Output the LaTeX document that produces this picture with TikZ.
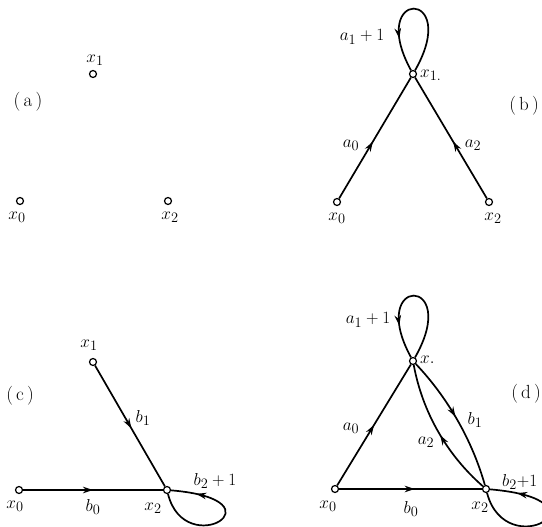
\documentclass[tikz,border=0pt]{standalone}
\usetikzlibrary{decorations.markings,arrows.meta}
\begin{document}
\begin{tikzpicture}[x=1pt,y=-1pt,
  vtx/.style={circle,draw,fill=white,inner sep=0pt,minimum size=7pt,line width=1.2pt},
  lbl/.style={inner sep=0pt,font=\fontsize{19}{22}\selectfont},
  edge/.style={line width=1.7pt},
  arr/.style={edge,postaction={decorate},decoration={markings,mark=at position #1 with {\arrow{Stealth[length=10pt,width=6.5pt]}}}}]
\useasboundingbox (0,0) rectangle (542,527);
\clip (0,0) rectangle (542,527);
% ---------- (a)
\node[vtx] (a1) at (93,74) {};
\node[vtx] (a0) at (20,201) {};
\node[vtx] (a2) at (168,201) {};
\node[lbl] (a1l) at (95,60) {$x_1$};
\node[lbl] (a0l) at (17,217) {$x_0$};
\node[lbl] (a2l) at (170,217) {$x_2$};
\node[lbl] (al) at (28,102) {(\,a\,)};
% ---------- (b)
\node[vtx] (b1) at (413,74) {};
\node[vtx] (b0) at (337,202) {};
\node[vtx] (b2) at (489,202) {};
\draw[arr=0.47] (b0) -- (b1);
\draw[arr=0.47] (b2) -- (b1);
\draw[arr=0.76] (b1) .. controls (462,-12) and (366,-12) .. (b1);
\node[lbl] (b1l) at (362,37) {$a_1+1$};
\node[lbl,anchor=west] (b1n) at (420,75) {$x_{1.}$};
\node[lbl] (bl) at (524,106) {(\,b\,)};
\node[lbl] (ba0) at (351,145) {$a_0$};
\node[lbl] (ba2) at (473,145) {$a_2$};
\node[lbl] (b0l) at (337,218) {$x_0$};
\node[lbl] (b2l) at (493,218) {$x_2$};
% ---------- (c)
\node[vtx] (c1) at (93,362) {};
\node[vtx] (c0) at (19,490) {};
\node[vtx] (c2) at (167,490) {};
\draw[arr=0.52] (c1) -- (c2);
\draw[arr=0.5] (c0) -- (c2);
\draw[arr=0.82] (c2) .. controls (185,562) and (287,500) .. (c2);
\node[lbl] (c1l) at (89,345) {$x_1$};
\node[lbl] (cl) at (20,396) {(\,c\,)};
\node[lbl] (cb1) at (143,418) {$b_1$};
\node[lbl] (cb0) at (93,507) {$b_0$};
\node[lbl] (c0l) at (15,506) {$x_0$};
\node[lbl] (c2l) at (153,508) {$x_2$};
\node[lbl] (cb2) at (215,481) {$b_2+1$};
% ---------- (d)
\node[vtx] (d1) at (413,361) {};
\node[vtx] (d0) at (335,489) {};
\node[vtx] (d2) at (486,489) {};
\draw[arr=0.5] (d0) -- (d1);
\draw[arr=0.53] (d0) -- (d2);
\draw[arr=0.47] (d1) .. controls (447.8,397.7) and (472.2,440.3) .. (d2);
\draw[arr=0.47] (d2) .. controls (446.9,454.8) and (422.5,412.2) .. (d1);
\draw[arr=0.76] (d1) .. controls (462,275) and (366,275) .. (d1);
\draw[arr=0.82] (d2) .. controls (506,565) and (615,500) .. (d2);
\node[lbl] (d1l) at (368,320) {$a_1+1$};
\node[lbl,anchor=west] (d1n) at (420,360) {$x.$};
\node[lbl] (dl) at (526,394) {(\,d\,)};
\node[lbl] (da0) at (351,428) {$a_0$};
\node[lbl] (db1) at (475,420) {$b_1$};
\node[lbl] (da2) at (426,442) {$a_2$};
\node[lbl] (d0l) at (328,506) {$x_0$};
\node[lbl] (db0) at (411,509) {$b_0$};
\node[lbl] (d2l) at (480,507) {$x_2$};
\node[lbl,anchor=west] (db2) at (502,482) {$b_2{+}1$};
\end{tikzpicture}
\end{document}
